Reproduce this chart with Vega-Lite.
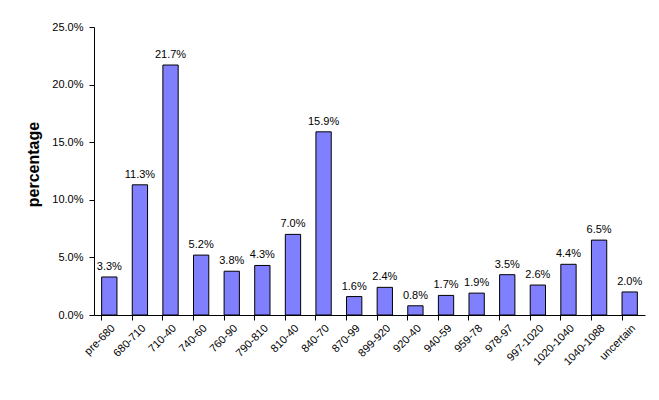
{
  "$schema": "https://vega.github.io/schema/vega-lite/v6.json",
  "width": 551,
  "height": 288,
  "autosize": {"type": "none"},
  "padding": {"left": 94, "top": 27, "right": 14, "bottom": 85},
  "background": "white",
  "config": {
    "font": "Liberation Sans",
    "view": {"stroke": null},
    "axis": {"domainColor": "black", "tickColor": "black", "labelColor": "black", "titleColor": "black", "grid": false, "labelFont": "Liberation Sans", "labelFontSize": 11}
  },
  "data": {
    "values": [
      {"period": "pre-680", "share": 0.033},
      {"period": "680-710", "share": 0.113},
      {"period": "710-40", "share": 0.217},
      {"period": "740-60", "share": 0.052},
      {"period": "760-90", "share": 0.038},
      {"period": "790-810", "share": 0.043},
      {"period": "810-40", "share": 0.070},
      {"period": "840-70", "share": 0.159},
      {"period": "870-99", "share": 0.016},
      {"period": "899-920", "share": 0.024},
      {"period": "920-40", "share": 0.008},
      {"period": "940-59", "share": 0.017},
      {"period": "959-78", "share": 0.019},
      {"period": "978-97", "share": 0.035},
      {"period": "997-1020", "share": 0.026},
      {"period": "1020-1040", "share": 0.044},
      {"period": "1040-1088", "share": 0.065},
      {"period": "uncertain", "share": 0.020}
    ]
  },
  "encoding": {
    "x": {
      "field": "period", "type": "nominal", "sort": null,
      "scale": {"paddingInner": 0.5, "paddingOuter": 0.25},
      "axis": {"title": null, "labelAngle": -45, "labelAlign": "right", "labelBaseline": "top", "bandPosition": 0, "tickSize": 5, "labelPadding": 2}
    },
    "y": {
      "field": "share", "type": "quantitative",
      "scale": {"domain": [0, 0.25]},
      "axis": {"title": "percentage", "format": ".1%", "values": [0, 0.05, 0.1, 0.15, 0.2, 0.25], "tickSize": 5, "labelPadding": 6, "titleFontSize": 16, "titleFontWeight": "bold", "titlePadding": 10, "titleY": 137, "titleFont": "Liberation Sans"}
    }
  },
  "layer": [
    {"mark": {"type": "bar", "color": "#8080FF", "stroke": "black", "strokeWidth": 1}},
    {"mark": {"type": "text", "dy": -10, "fontSize": 11, "color": "black"}, "encoding": {"text": {"field": "share", "type": "quantitative", "format": ".1%"}}}
  ]
}
